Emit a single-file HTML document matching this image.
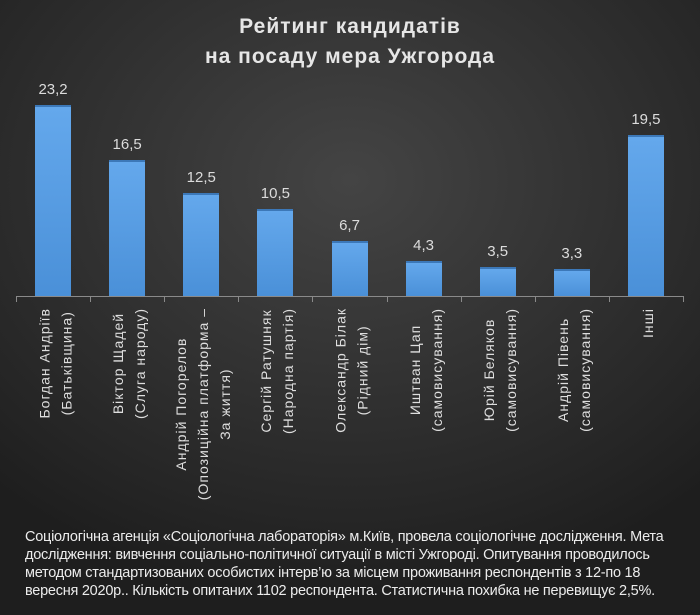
<!DOCTYPE html>
<html><head><meta charset="utf-8">
<style>
html,body{margin:0;padding:0;}
body{width:700px;height:615px;overflow:hidden;position:relative;
background:radial-gradient(ellipse 520px 420px at 350px 180px,#444 0%,#353535 40%,#262626 80%,#1e1e1e 100%);
font-family:"Liberation Sans","DejaVu Sans",sans-serif;}
#title{position:absolute;left:0;width:700px;top:12px;text-align:center;color:#e6e6e6;font-weight:bold;font-size:21px;line-height:30px;letter-spacing:1px;}
#chart{position:absolute;left:0;top:0;width:700px;height:520px;}
.bar{position:absolute;background:linear-gradient(#64a8ec,#4a90d8);border-top:2px solid #3c78b8;box-sizing:border-box;}
.val{position:absolute;color:#dcdcdc;font-size:15px;text-align:center;width:60px;}
.lab{position:absolute;top:308px;width:0;height:0;}
.lab div{position:absolute;right:0;top:0;transform-origin:right top;transform:rotate(-90deg) translateY(-50%);white-space:nowrap;text-align:center;color:#dedede;font-size:14px;line-height:22px;letter-spacing:1px;}
#axis{position:absolute;left:16px;top:296px;width:667px;height:1px;background:#8a8a8a;}
.tick{position:absolute;top:296px;width:1px;height:6px;background:#8a8a8a;}
#note{position:absolute;left:25px;top:528px;color:#ececec;font-size:14.5px;line-height:18px;letter-spacing:-0.25px;white-space:nowrap;}
</style></head>
<body>
<div id="title">Рейтинг кандидатів<br>на посаду мера Ужгорода</div>
<div id="chart">
<div id="axis"></div>
</div>
<div id="note">Соціологічна агенція «Соціологічна лабораторія» м.Київ, провела соціологічне дослідження. Мета<br>дослідження: вивчення соціально-політичної ситуації в місті Ужгороді. Опитування проводилось<br>методом стандартизованих особистих інтерв’ю за місцем проживання респондентів з 12-по 18<br>вересня 2020р.. Кількість опитаних 1102 респондента. Статистична похибка не перевищує 2,5%.</div>
<script>
const categories=[
["Богдан Андріїв","(Батьківщина)"],
["Віктор Щадей","(Слуга народу)"],
["Андрій Погорелов","(Опозиційна платформа –","За життя)"],
["Сергій Ратушняк","(Народна партія)"],
["Олександр Білак","(Рідний дім)"],
["Иштван Цап","(самовисування)"],
["Юрій Беляков","(самовисування)"],
["Андрій Півень","(самовисування)"],
["Інші"]];
const values=[23.2,16.5,12.5,10.5,6.7,4.3,3.5,3.3,19.5];
const valueLabels=["23,2","16,5","12,5","10,5","6,7","4,3","3,5","3,3","19,5"];

const chart=document.getElementById('chart');
const x0=16,x1=683,baseY=296,pxPerUnit=8.24,barW=36;
const step=(x1-x0)/categories.length;
function xCenter(i){return x0+step*(i+0.5);}
function yScale(v){return baseY-v*pxPerUnit;}
for(let i=0;i<=categories.length;i++){
  const t=document.createElement('div');
  t.className='tick';
  
  
  t.style.left=(x0+step*i)+'px';
  chart.appendChild(t);
}
values.forEach((v,i)=>{
  const cx=xCenter(i),top=yScale(v);
  const b=document.createElement('div');
  b.className='bar';
  
  
  b.style.left=(cx-barW/2)+'px';b.style.width=barW+'px';
  b.style.top=top+'px';b.style.height=(baseY-top)+'px';
  chart.appendChild(b);
  const l=document.createElement('div');
  l.className='val';
  
  
  l.textContent=valueLabels[i];
  l.style.left=(cx-30)+'px';l.style.top=(top-24)+'px';
  chart.appendChild(l);
  const c=document.createElement('div');
  c.className='lab';
  
  
  c.style.left=(cx+2)+'px';
  const d=document.createElement('div');
  d.innerHTML=categories[i].join('<br>');
  c.appendChild(d);
  chart.appendChild(c);
});
</script>
</body></html>
